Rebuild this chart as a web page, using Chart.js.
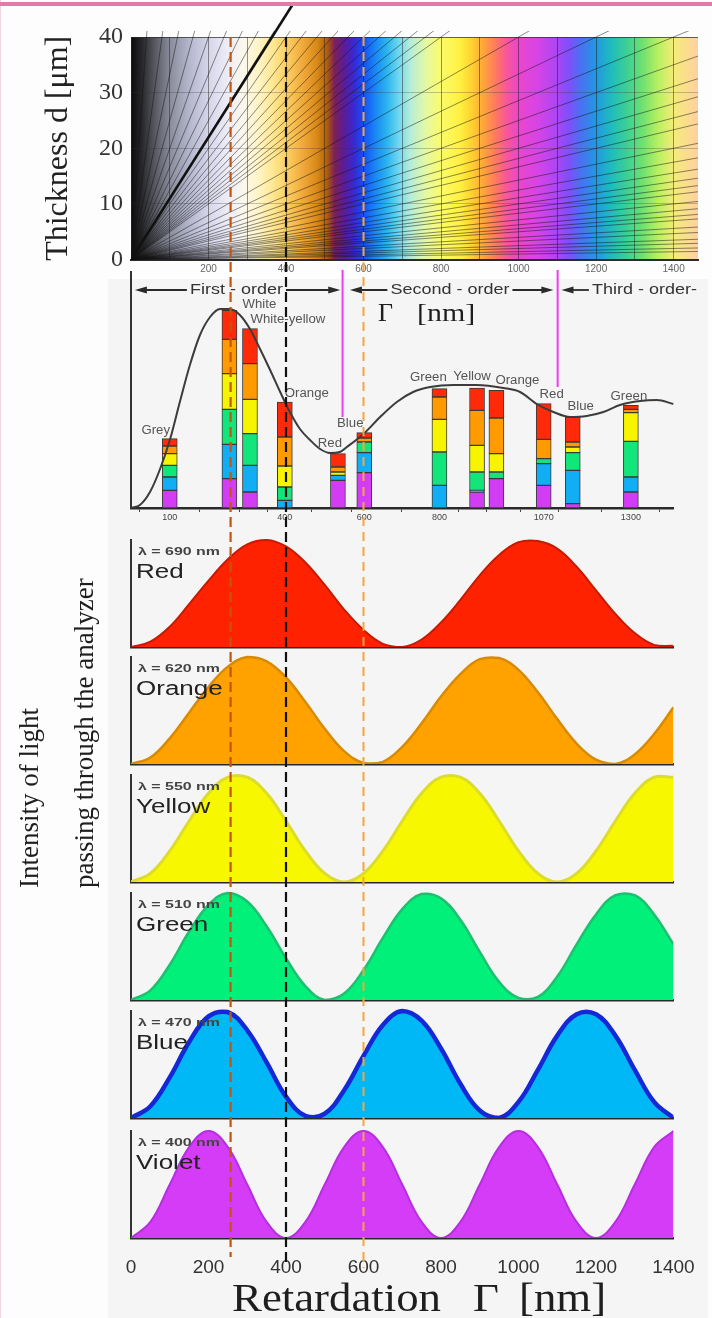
<!DOCTYPE html>
<html>
<head>
<meta charset="utf-8">
<title>Interference colours and retardation</title>
<script src="https://cdn.jsdelivr.net/npm/chart.js@4.4.1/dist/chart.umd.min.js"></script>
<style>
  html, body { margin: 0; padding: 0; }
  body { width: 712px; height: 1318px; position: relative; overflow: hidden; background: #fdfdfd; }
  canvas { position: absolute; left: 0; }
  .serif { position: absolute; white-space: nowrap; color: #1e1e1e; font-family: "Liberation Serif", "Times New Roman", serif; }
</style>
</head>
<body>
<div style="position:absolute;left:108px;top:279px;width:600px;height:1039px;background:#f5f5f5"></div>
<div style="position:absolute;left:0;top:0;width:1px;height:1318px;background:#f2d4e2"></div>

<canvas id="mlChart" width="712" height="282" style="top:0"></canvas>
<canvas id="barChart" width="712" height="258" style="top:262px"></canvas>
<canvas id="panel0" width="712" height="132" style="top:520px"></canvas>
<canvas id="panel1" width="712" height="117" style="top:652px"></canvas>
<canvas id="panel2" width="712" height="118" style="top:769px"></canvas>
<canvas id="panel3" width="712" height="118" style="top:887px"></canvas>
<canvas id="panel4" width="712" height="118" style="top:1005px"></canvas>
<canvas id="panel5" width="712" height="195" style="top:1123px"></canvas>

<div class="serif" style="left:378px;top:298px;font-size:26px;line-height:30px">Γ</div>
<div class="serif" style="left:417px;top:298px;font-size:26px;line-height:30px;transform:scaleX(1.15);transform-origin:0 0">[nm]</div>
<div class="serif" style="left:2px;top:888px;font-size:27px;line-height:55px;transform:rotate(-90deg);transform-origin:0 0">Intensity of light<br>passing through the analyzer</div>
<div class="serif" style="left:232px;top:1276px;font-size:40px;line-height:44px;transform:scaleX(1.12);transform-origin:0 0">Retardation</div>
<div class="serif" style="left:473px;top:1276px;font-size:40px;line-height:44px;transform:scaleX(1.12);transform-origin:0 0">Γ</div>
<div class="serif" style="left:519px;top:1276px;font-size:40px;line-height:44px;transform:scaleX(1.12);transform-origin:0 0">[nm]</div>
<div style="position:absolute;left:0;top:2px;width:712px;height:4px;background:#e47aa9"></div>

<script>
// ---- data: Michel-Levy chart (top) ----
// slopes of the birefringence lines, retardation per thickness (nm / um)
const fanSlopes = [1, 2, 3, 4, 5, 6, 7, 8, 9, 10, 11, 12, 13, 14, 15, 16, 17, 18, 19, 20,
  25, 30, 35, 40, 45, 50, 55, 60, 70, 80, 90, 100, 110, 120, 140, 160, 180, 200, 250, 300,
  400, 500, 700, 1000];
const thickSlope = 9.1;
const mlGrid = [0, 100, 200, 300, 400, 500, 600, 700, 800, 900, 1000, 1100, 1200, 1300, 1400];
// interference colour along retardation (nm)
const mlStops = [0, 30, 60, 100, 150, 200, 250, 290, 330, 370, 410, 450, 480, 505, 525, 550, 575, 600,
  630, 660, 690, 720, 760, 800, 850, 880, 910, 940, 970, 1000, 1050, 1100, 1130, 1160, 1200, 1240,
  1280, 1320, 1360, 1400, 1463];
const mlColors = ['#0a0a0a', '#2a2a2e', '#55565e', '#8a8c9c', '#b4b6cc', '#d6d6ea', '#eeecf6', '#fbf8ec',
  '#fff4c4', '#ffe58c', '#fbc85a', '#eda334', '#d88918', '#b0600c', '#7c2058', '#5a1c98', '#3a28d0',
  '#1450f5', '#1a86f5', '#2ab4ee', '#6ed6f0', '#b4ecd8', '#e4f8a4', '#fbfc6a', '#fff040', '#ffd030',
  '#ffa43c', '#ff7a5e', '#f8569c', '#ea46cc', '#d644e6', '#aa46f4', '#7e50fa', '#4c70f2', '#2098e2',
  '#20bcbc', '#3cd094', '#70e070', '#b8f060', '#f4ec78', '#ffd0a0'];

// ---- data: colour bars (middle) ----
const barPos = [100, 254, 307, 397, 534, 602, 796, 893, 943, 1065, 1140, 1290];
const barNames = ['Grey', 'White', 'White-yellow', 'Orange', 'Red', 'Blue', 'Green', 'Yellow', 'Orange', 'Red', 'Blue', 'Green'];
const barTickLabels = ['100', '', '', '400', '', '600', '800', '', '', '1070', '', '1300'];
const violetSeg = [17.7, 29.3, 16.0, 0, 27.7, 35.3, 0, 16.0, 29.3, 22.7, 4.3, 16.0];
const blueSeg   = [13.3, 34.4, 26.7, 7.7, 5.0, 20.0, 22.7, 1.7, 0, 21.6, 33.4, 15.0];
const greenSeg  = [11.7, 35.0, 31.6, 13.3, 0, 10.7, 33.3, 18.3, 6.7, 5.0, 17.6, 35.7];
const yellowSeg = [11.6, 35.6, 34.4, 21.0, 3.3, 0, 32.7, 26.7, 18.3, 0, 5.7, 28.6];
const orangeSeg = [7.7, 34.4, 35.6, 29.0, 5.0, 4.0, 22.3, 35.0, 35.7, 19.4, 5.0, 3.4];
const redSeg    = [7.3, 29.0, 35.0, 35.0, 13.3, 5.3, 8.3, 22.3, 27.7, 35.6, 25.0, 4.0];
// total transmitted intensity curve
const curveX = [0, 23, 49, 75, 101, 126, 152, 178, 204, 230, 255, 281, 307, 333, 359, 385, 410, 436, 462,
  488, 514, 539, 557, 600, 643, 686, 728, 772, 832, 892, 961, 1004, 1047, 1090, 1133, 1176, 1219, 1262,
  1314, 1357, 1400];
const curveY = [0, 3, 16, 39, 69, 106, 143, 173, 191, 199, 199, 193, 179, 159, 138, 116, 96, 79, 68,
  59, 55, 56, 61, 74, 91, 106, 116, 121, 123, 123, 120, 116, 104, 96, 91, 92, 96, 103,
  107, 108, 104];
const orderNames = ['First - order', 'Second - order', 'Third - order-'];
const orderRanges = [[10, 540], [565, 1090], [1111, 1325]];
const orderTextAt = [272, 823, 1325];
const orderBounds = [546, 1101];

// ---- data: intensity after the analyzer (bottom) ----
const retardation = [0, 50, 100, 150, 200, 250, 300, 350, 400, 450, 500, 550, 600, 650, 700,
  750, 800, 850, 900, 950, 1000, 1050, 1100, 1150, 1200, 1250, 1300, 1350, 1400];
const redIntensity = [0, 0.05, 0.19, 0.40, 0.62, 0.82, 0.96, 1.00, 0.94, 0.79, 0.58, 0.35, 0.16, 0.03, 0.00,
  0.07, 0.23, 0.44, 0.67, 0.86, 0.98, 0.99, 0.92, 0.75, 0.53, 0.31, 0.13, 0.02, 0.01];
const orangeIntensity = [0, 0.06, 0.24, 0.48, 0.72, 0.91, 1.00, 0.96, 0.81, 0.58, 0.33, 0.12, 0.01, 0.02, 0.16,
  0.38, 0.63, 0.84, 0.98, 0.99, 0.88, 0.67, 0.42, 0.19, 0.04, 0.00, 0.09, 0.28, 0.53];
const yellowIntensity = [0, 0.08, 0.29, 0.57, 0.83, 0.98, 0.98, 0.83, 0.57, 0.29, 0.08, 0, 0.08, 0.29, 0.57,
  0.83, 0.98, 0.98, 0.83, 0.57, 0.29, 0.08, 0, 0.08, 0.29, 0.57, 0.83, 0.98, 0.98];
const greenIntensity = [0, 0.09, 0.33, 0.64, 0.89, 1.00, 0.92, 0.69, 0.39, 0.13, 0.00, 0.06, 0.28, 0.58, 0.85,
  0.99, 0.95, 0.75, 0.45, 0.17, 0.02, 0.03, 0.22, 0.52, 0.80, 0.98, 0.98, 0.80, 0.52];
const blueIntensity = [0, 0.11, 0.38, 0.71, 0.95, 0.99, 0.82, 0.52, 0.20, 0.02, 0.04, 0.26, 0.58, 0.87, 1.00,
  0.91, 0.65, 0.32, 0.07, 0.00, 0.15, 0.45, 0.77, 0.97, 0.97, 0.77, 0.45, 0.15, 0.00];
const violetIntensity = [0, 0.15, 0.50, 0.85, 1, 0.85, 0.50, 0.15, 0, 0.15, 0.50, 0.85, 1, 0.85, 0.50,
  0.15, 0, 0.15, 0.50, 0.85, 1, 0.85, 0.50, 0.15, 0, 0.15, 0.50, 0.85, 1];
const panelNames = ['Red', 'Orange', 'Yellow', 'Green', 'Blue', 'Violet'];
const panelLambdas = [690, 620, 550, 510, 470, 400];
const bottomTicks = [0, 200, 400, 600, 800, 1000, 1200, 1400];

// dashed reference lines (nm)
const guideValues = [257, 400, 600];

// ---- styles / geometry ----
const SANS = '"Liberation Sans", Arial, sans-serif';
const SERIF = '"Liberation Serif", "Times New Roman", serif';
const GUIDE_TOP = 37;
const guideStyles = [
  {color: '#c2560f', width: 2.2, dash: [10, 5], end: 1257},
  {color: '#111111', width: 2.2, dash: [10, 5], end: 1264},
  {color: '#f7a43e', width: 2.0, dash: [9, 6], end: 1268}
];
Chart.defaults.font.family = SANS;

const guidePlugin = {
  id: 'guides',
  afterDraw(chart, args, opts) {
    const ctx = chart.ctx;
    const x = chart.scales.x;
    guideValues.forEach((v, i) => {
      const st = guideStyles[i];
      const y1 = Math.max(opts.from, GUIDE_TOP);
      const y2 = Math.min(opts.to, st.end);
      if (y2 <= y1) return;
      const px = x.getPixelForValue(v);
      ctx.save();
      ctx.strokeStyle = st.color;
      ctx.lineWidth = st.width;
      ctx.setLineDash(st.dash);
      ctx.lineDashOffset = y1 - GUIDE_TOP;
      ctx.beginPath();
      ctx.moveTo(px, y1 - opts.offset);
      ctx.lineTo(px, y2 - opts.offset);
      ctx.stroke();
      ctx.restore();
    });
  }
};

// colour background of the Michel-Levy chart
const mlBackground = {
  id: 'mlBackground',
  beforeDraw(chart) {
    const {ctx, chartArea: a, scales: {x}} = chart;
    const x0 = x.getPixelForValue(0), x1 = x.getPixelForValue(mlStops[mlStops.length - 1]);
    const g = ctx.createLinearGradient(x0, 0, x1, 0);
    mlStops.forEach((v, i) => g.addColorStop((x.getPixelForValue(v) - x0) / (x1 - x0), mlColors[i]));
    ctx.save();
    ctx.fillStyle = g;
    ctx.fillRect(a.left, a.top, a.right - a.left, a.bottom - a.top);
    ctx.restore();
  }
};

// ---- top chart ----
const fanDatasets = fanSlopes.map(s => ({
  data: [{x: 0, y: 0}, {x: s * 60, y: 60}],
  showLine: true, pointRadius: 0,
  borderColor: 'rgba(20,20,20,0.55)', borderWidth: 0.9,
  clip: {left: 0, top: 6, right: 0, bottom: 0}
}));
fanDatasets.push({
  data: [{x: 0, y: 0}, {x: thickSlope * 60, y: 60}],
  showLine: true, pointRadius: 0,
  borderColor: '#111', borderWidth: 2.6,
  clip: {left: 0, top: 32, right: 0, bottom: 0}
});

new Chart(document.getElementById('mlChart'), {
  type: 'scatter',
  data: {datasets: fanDatasets},
  options: {
    responsive: false, animation: false, devicePixelRatio: 1, events: [],
    layout: {padding: {top: 37, right: 14, left: 0, bottom: 0}},
    plugins: {legend: {display: false}, tooltip: {enabled: false}, guides: {offset: 0, from: 37, to: 270}},
    scales: {
      x: {
        type: 'linear', min: 0, max: 1463,
        afterBuildTicks: s => { s.ticks = mlGrid.map(v => ({value: v})); },
        afterFit: s => { s.height = 15; },
        grid: {color: 'rgba(20,20,20,0.45)', lineWidth: 1, drawTicks: false},
        border: {color: '#2b2b2b', width: 2},
        ticks: {font: {size: 10}, color: '#666', padding: 4, maxRotation: 0, autoSkip: false,
          callback: v => (v % 200 === 0 && v > 0) ? String(v) : ''}
      },
      y: {
        min: 0, max: 40,
        afterFit: s => { s.width = 131; },
        grid: {drawTicks: false,
          color: c => c.tick.value === 40 ? 'rgba(40,40,40,0.7)' : 'rgba(50,50,50,0.28)'},
        border: {color: '#222', width: 1},
        ticks: {stepSize: 5, padding: 8, color: '#333', font: {family: SERIF, size: 24},
          callback: v => v % 10 === 0 ? String(v) : ''},
        title: {display: true, text: 'Thickness d [μm]', color: '#222',
          font: {family: SERIF, size: 32}, padding: {top: 39, bottom: 0}}
      }
    }
  },
  plugins: [mlBackground, guidePlugin]
});

// ---- middle chart: stacked colour bars ----
const layers = [
  {values: violetSeg, color: '#d23cf5'},
  {values: blueSeg, color: '#12aef5'},
  {values: greenSeg, color: '#12e67a'},
  {values: yellowSeg, color: '#f7f400'},
  {values: orangeSeg, color: '#ff9a00'},
  {values: redSeg, color: '#ff2a0a'}
];

const barLabelPlugin = {
  id: 'barLabels',
  afterDatasetsDraw(chart, args, opts) {
    const {ctx, scales: {x, y}} = chart;
    ctx.save();
    ctx.font = '12px ' + SANS;
    ctx.fillStyle = '#555';
    ctx.textAlign = 'center';
    ctx.textBaseline = 'middle';
    barNames.forEach((name, i) => {
      const total = layers.reduce((s, l) => s + l.values[i], 0);
      ctx.save();
      ctx.translate(x.getPixelForValue(barPos[i]) + opts.dx[i], y.getPixelForValue(total) + opts.dy[i]);
      ctx.scale(1.1, 1);
      ctx.fillText(name, 0, 0);
      ctx.restore();
    });
    ctx.restore();
  }
};

const orderPlugin = {
  id: 'orders',
  afterDraw(chart, args, opts) {
    const {ctx, scales: {x}} = chart;
    const y = opts.rowY - opts.offset;
    ctx.save();
    ctx.strokeStyle = '#f03cf0';
    ctx.lineWidth = 2;
    orderBounds.forEach((v, i) => {
      const px = x.getPixelForValue(v);
      ctx.beginPath();
      ctx.moveTo(px, 270 - opts.offset);
      ctx.lineTo(px, opts.boundEnds[i] - opts.offset);
      ctx.stroke();
    });
    ctx.strokeStyle = '#2a2a2a';
    ctx.fillStyle = '#2a2a2a';
    ctx.lineWidth = 1.8;
    ctx.font = '15px ' + SANS;
    ctx.textBaseline = 'middle';
    ctx.textAlign = 'center';
    orderNames.forEach((name, i) => {
      const x1 = x.getPixelForValue(orderRanges[i][0]);
      const x2 = x.getPixelForValue(orderRanges[i][1]);
      const tx = x.getPixelForValue(orderTextAt[i]);
      const w = ctx.measureText(name).width * 1.2;
      ctx.beginPath();
      ctx.moveTo(x1 + 4, y);
      ctx.lineTo(tx - w / 2 - 3, y);
      if (x2 > tx + w / 2 + 3) {
        ctx.moveTo(tx + w / 2 + 3, y);
        ctx.lineTo(x2 - 4, y);
      }
      ctx.stroke();
      ctx.beginPath();
      ctx.moveTo(x1, y); ctx.lineTo(x1 + 12, y - 3.5); ctx.lineTo(x1 + 12, y + 3.5); ctx.closePath();
      ctx.fill();
      if (x2 > tx + w / 2 + 3) {
        ctx.beginPath();
        ctx.moveTo(x2, y); ctx.lineTo(x2 - 12, y - 3.5); ctx.lineTo(x2 - 12, y + 3.5); ctx.closePath();
        ctx.fill();
      }
      ctx.save();
      ctx.translate(tx, y);
      ctx.scale(1.2, 1);
      ctx.fillStyle = '#333';
      ctx.fillText(name, 0, 0);
      ctx.restore();
    });
    ctx.restore();
  }
};

const barDatasets = layers.map(l => ({
  type: 'bar',
  data: barPos.map((x, i) => ({x: x, y: l.values[i] || null})),
  backgroundColor: l.color,
  borderColor: '#3a3a3a',
  borderWidth: 1,
  borderSkipped: false,
  barThickness: 15,
  stack: 'bars',
  order: 1
}));
barDatasets.push({
  type: 'line',
  data: curveX.map((x, i) => ({x: x, y: curveY[i]})),
  borderColor: '#3c3c3c', borderWidth: 2, pointRadius: 0,
  cubicInterpolationMode: 'monotone',
  stack: 'curve', order: 0
});

new Chart(document.getElementById('barChart'), {
  type: 'bar',
  data: {datasets: barDatasets},
  options: {
    responsive: false, animation: false, devicePixelRatio: 1, events: [],
    layout: {padding: {top: 10, right: 38.5, left: 0, bottom: 0}},
    plugins: {
      legend: {display: false}, tooltip: {enabled: false},
      barLabels: {dx: [-14, 30, 38, 22, -8, -14, -11, -5, 21, 8, 8, -2],
                  dy: [-8, -6, -9, -8, -10, -9, -11, -11, -10, -9, -10, -9]},
      orders: {offset: 262, rowY: 290, boundEnds: [417, 387]},
      guides: {offset: 262, from: 270, to: 520}
    },
    scales: {
      x: {
        type: 'linear', min: 0, max: 1400, offset: false, stacked: true,
        afterBuildTicks: s => { s.ticks = barPos.map(v => ({value: v})); },
        afterFit: s => { s.height = 12; },
        grid: {display: true, drawOnChartArea: false, drawTicks: true, tickLength: 4, tickColor: '#444'},
        border: {color: '#2a2a2a', width: 2.5},
        ticks: {font: {size: 9}, color: '#444', padding: 0, maxRotation: 0, autoSkip: false,
          callback: (v, i) => barTickLabels[i]}
      },
      y: {
        min: 0, max: 236, stacked: true,
        afterFit: s => { s.width = 131; },
        ticks: {display: false}, grid: {display: false},
        border: {color: '#333', width: 2}
      }
    }
  },
  plugins: [barLabelPlugin, orderPlugin, guidePlugin]
});

// ---- bottom: six intensity panels ----
const panelData = [redIntensity, orangeIntensity, yellowIntensity, greenIntensity, blueIntensity, violetIntensity];
const panelStyles = [
  {fill: '#ff2200', line: '#c81a00', width: 2},
  {fill: '#ffa200', line: '#d88a00', width: 2.5},
  {fill: '#f7f700', line: '#dcdc2a', width: 3},
  {fill: '#00f07a', line: '#1cc070', width: 2.5},
  {fill: '#00b8f5', line: '#1428d8', width: 4.5},
  {fill: '#d53cf7', line: '#b52ee0', width: 2}
];
const panelCanvasTop = [520, 652, 769, 887, 1005, 1123];
const panelCanvasBottom = [652, 769, 887, 1005, 1123, 1318];
const panelAreaTop = [540, 657, 775, 893, 1011, 1131];
const panelAreaBottom = [647, 764, 882, 1000, 1118, 1238];

const panelLabelPlugin = {
  id: 'panelLabel',
  afterDatasetsDraw(chart, args, opts) {
    const {ctx, chartArea: a} = chart;
    ctx.save();
    ctx.textBaseline = 'middle';
    ctx.fillStyle = '#444';
    ctx.font = 'bold 11px ' + SANS;
    ctx.translate(a.left + 7, a.bottom - 95);
    ctx.scale(1.45, 1);
    ctx.fillText('λ = ' + opts.lambda + ' nm', 0, 0);
    ctx.restore();
    ctx.save();
    ctx.textBaseline = 'middle';
    ctx.fillStyle = '#222';
    ctx.font = '20px ' + SANS;
    ctx.translate(a.left + 5, a.bottom - 75);
    ctx.scale(1.3, 1);
    ctx.fillText(opts.name, 0, 0);
    ctx.restore();
  }
};

panelData.forEach((vals, p) => {
  const st = panelStyles[p];
  const last = p === panelData.length - 1;
  const top = panelCanvasTop[p];
  new Chart(document.getElementById('panel' + p), {
    type: 'line',
    data: {
      datasets: [{
        data: retardation.map((x, i) => ({x: x, y: vals[i]})),
        fill: 'origin',
        backgroundColor: st.fill,
        borderColor: st.line,
        borderWidth: st.width,
        pointRadius: 0,
        tension: 0.4,
        clip: {left: 0, top: 6, right: 0, bottom: 0}
      }]
    },
    options: {
      responsive: false, animation: false, devicePixelRatio: 1, events: [],
      layout: {padding: {top: panelAreaTop[p] - top, right: 38.5, left: 0, bottom: 0}},
      plugins: {
        legend: {display: false}, tooltip: {enabled: false},
        panelLabel: {name: panelNames[p], lambda: panelLambdas[p]},
        guides: {offset: top, from: top, to: panelCanvasBottom[p]}
      },
      scales: {
        x: {
          type: 'linear', min: 0, max: 1400,
          afterBuildTicks: s => { s.ticks = bottomTicks.map(v => ({value: v})); },
          afterFit: s => { s.height = panelCanvasBottom[p] - panelAreaBottom[p]; },
          grid: {display: false},
          border: {color: '#2a2a2a', width: 2.5},
          ticks: {display: last, font: {size: 19}, color: '#333', padding: 10, maxRotation: 0, autoSkip: false,
            callback: v => String(v)}
        },
        y: {
          min: 0, max: 1,
          afterFit: s => { s.width = 131; },
          ticks: {display: false}, grid: {display: false},
          border: {color: '#333', width: 2}
        }
      }
    },
    plugins: [panelLabelPlugin, guidePlugin]
  });
});
</script>
</body>
</html>
